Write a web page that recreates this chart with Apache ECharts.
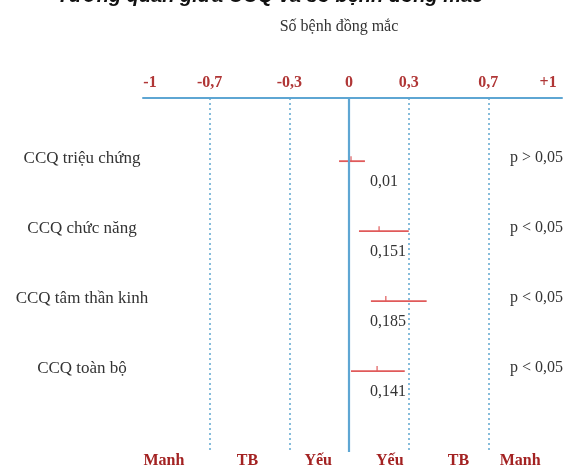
<!DOCTYPE html>
<html><head><meta charset="utf-8">
<script src="https://cdn.jsdelivr.net/npm/echarts@6/dist/echarts.min.js"></script>
<style>html,body{margin:0;padding:0;background:#fff}#c{width:571px;height:466px}</style>
</head><body><div id="c"></div><script>
const categories = ['CCQ triệu chứng', 'CCQ chức năng', 'CCQ tâm thần kinh', 'CCQ toàn bộ'];
const coefficients = [0.01, 0.151, 0.185, 0.141];
const lowerBounds = [-0.05, 0.05, 0.11, 0.01];
const upperBounds = [0.08, 0.30, 0.39, 0.28];
const coefLabels = ['0,01', '0,151', '0,185', '0,141'];
const pLabels = ['p > 0,05', 'p < 0,05', 'p < 0,05', 'p < 0,05'];
const tickValues = [-1, -0.7, -0.3, 0, 0.3, 0.7, 1];
const tickLabels = ['-1', '-0,7', '-0,3', '0', '0,3', '0,7', '+1'];
const thresholdLines = [-0.7, -0.3, 0.3, 0.7];
const strengthLabels = ['Manh', 'TB', 'Yếu', 'Yếu', 'TB', 'Manh'];
const strengthPositions = [-0.93, -0.51, -0.155, 0.205, 0.55, 0.86];
const rowPositions = [1, 2, 3, 4];
const axisTitle = 'Số bệnh đồng mắc';
const topTitle = 'Tương quan giữa CCQ và số bệnh đồng mắc';

const SERIF = '"Liberation Serif", "DejaVu Serif", serif';
const pick = (vals, labels) => v => {
  const i = vals.findIndex(x => Math.abs(x - v) < 1e-6);
  return i < 0 ? '' : labels[i];
};

const chart = echarts.init(document.getElementById('c'));
const X_MIN = -1.035, X_MAX = 1.07, Y_MIN = 0.14, Y_MAX = 5.2;

chart.setOption({
  animation: false,
  backgroundColor: '#fff',
  graphic: [
    { type: 'text', x: 270, y: 6, style: { text: topTitle, font: 'italic bold 20px "Liberation Sans", Arial, sans-serif', fill: '#111', align: 'center', verticalAlign: 'bottom' } },
    { type: 'text', x: 339, y: 27, style: { text: axisTitle, font: '16px ' + SERIF, fill: '#333', align: 'center', verticalAlign: 'middle' } }
  ],
  grid: { left: 143, right: 9, top: 98, bottom: 14, containLabel: false, outerBoundsMode: 'none' },
  xAxis: [
    {
      type: 'value', position: 'top', min: X_MIN, max: X_MAX,
      axisLine: { show: true, lineStyle: { color: '#5ea6d3', width: 2 } },
      axisTick: { show: false }, splitLine: { show: false },
      axisLabel: { customValues: tickValues, formatter: pick(tickValues, tickLabels), color: '#b03636', fontFamily: SERIF, fontSize: 16, fontWeight: 'bold', margin: 7 }
    },
    {
      type: 'value', position: 'bottom', min: X_MIN, max: X_MAX,
      axisLine: { show: false }, axisTick: { show: false }, splitLine: { show: false },
      axisLabel: { customValues: strengthPositions, formatter: pick(strengthPositions, strengthLabels), color: '#a32222', fontFamily: SERIF, fontSize: 16, fontWeight: 'bold', margin: 1 }
    }
  ],
  yAxis: [
    {
      type: 'value', inverse: true, min: Y_MIN, max: Y_MAX, position: 'left',
      axisLine: { show: false }, axisTick: { show: false }, splitLine: { show: false },
      axisLabel: { customValues: rowPositions, formatter: pick(rowPositions, categories), color: '#333', fontFamily: SERIF, fontSize: 17, align: 'center', margin: 61 }
    },
    {
      type: 'value', inverse: true, min: Y_MIN, max: Y_MAX, position: 'right', offset: -52,
      axisLine: { show: false }, axisTick: { show: false }, splitLine: { show: false },
      axisLabel: { customValues: rowPositions, formatter: pick(rowPositions, pLabels), color: '#333', fontFamily: SERIF, fontSize: 16, align: 'left', margin: 0 }
    }
  ],
  series: [{
    type: 'custom', xAxisIndex: 0, yAxisIndex: 0,
    data: categories.map((c, i) => [coefficients[i], lowerBounds[i], upperBounds[i], rowPositions[i], i]),
    encode: { x: [0, 1, 2], y: 3 },
    renderItem(params, api) {
      const row = api.value(3), idx = api.value(4);
      const lo = api.coord([api.value(1), row]);
      const hi = api.coord([api.value(2), row]);
      const c = api.coord([api.value(0), row]);
      const z0 = api.coord([0, row]);
      const y = c[1] + 3;
      return {
        type: 'group', children: [
          { type: 'line', shape: { x1: lo[0], y1: y, x2: hi[0], y2: y }, style: { stroke: '#e05a5a', lineWidth: 1.8 } },
          { type: 'line', shape: { x1: c[0], y1: y, x2: c[0], y2: y - 5 }, style: { stroke: '#e05a5a', lineWidth: 1.2 } },
          { type: 'text', x: z0[0] + 21, y: y + 21, style: { text: coefLabels[idx], font: '16px ' + SERIF, fill: '#333', align: 'left', verticalAlign: 'middle' } }
        ]
      };
    },
    markLine: {
      silent: true, symbol: 'none', label: { show: false },
      data: thresholdLines.map(v => ({ xAxis: v, lineStyle: { color: '#5fa7cf', type: [2, 3], width: 1.5 } }))
        .concat([{ xAxis: 0, lineStyle: { color: '#5ea6d3', type: 'solid', width: 2.2 } }])
    }
  }]
});
</script></body></html>
